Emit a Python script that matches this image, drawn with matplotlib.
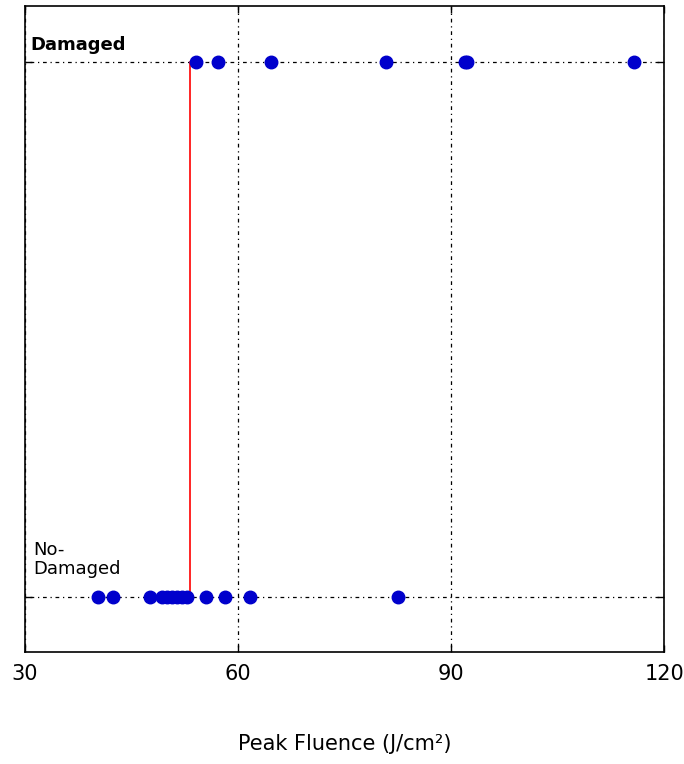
import matplotlib
matplotlib.use("Agg")
import matplotlib.pyplot as plt
import numpy as np

plt.rcParams['font.family'] = ['DejaVu Sans']

# fluence values (J/cm^2)
damaged = [54.1, 57.2, 64.6, 80.9, 91.9, 92.3, 115.8]
no_damaged = [40.3, 42.4, 47.6, 49.3, 50.0, 50.7, 51.4, 52.1, 52.8, 55.5, 58.2, 61.7, 82.5]
threshold = 53.3
xticks = [30, 60, 90, 120]

fig = plt.figure(figsize=(6.84, 7.64), dpi=100)
ax = fig.add_axes([0.0365, 0.147, 0.9345, 0.845])

ax.plot(damaged, np.ones(len(damaged)), 'o', color='#0000cc', markersize=9, zorder=3)
ax.plot(no_damaged, np.zeros(len(no_damaged)), 'o', color='#0000cc', markersize=9, zorder=3)
ax.plot([threshold, threshold], [0, 1], color='red', linewidth=1.2, zorder=2)

ax.set_xlim(30, 120)
ax.set_ylim(-0.103, 1.105)
ax.set_xticks(xticks)
ax.set_xticklabels([str(t) for t in xticks], fontsize=15)
ax.set_yticks([0, 1])
ax.set_yticklabels([])
ax.tick_params(direction='in', top=True, right=True, length=5, width=1, pad=9)
ax.grid(True, color='black', linestyle=(0, (1, 3, 3, 3)), linewidth=0.9)

ax.text(30.7, 1.015, 'Damaged', fontsize=13, fontweight='bold', va='bottom', ha='left')
ax.text(31.2, 0.035, 'No-\nDamaged', fontsize=13, va='bottom', ha='left', linespacing=1.05)

ax.set_xlabel('Peak Fluence (J/cm²)', fontsize=15, labelpad=36)
for s in ax.spines.values():
    s.set_linewidth(1.2)

fig.savefig('out.png', dpi=100, facecolor='white')
